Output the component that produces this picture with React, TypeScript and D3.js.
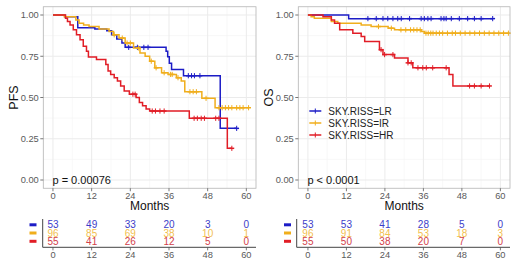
import React from "react";
import * as d3 from "d3";

// ---------- data ----------
const groups = ["SKY.RISS=LR", "SKY.RISS=IR", "SKY.RISS=HR"];
const colors = ["#1c1cc6", "#f0ae1c", "#e11d26"];
const tableColors = ["#3c3cc8", "#f2c04e", "#d2404a"];
const xTicks = [0, 12, 24, 36, 48, 60];
const yTicks = [0, 0.25, 0.5, 0.75, 1];

// PFS step curves
const pfsLR_t = [0, 3.7, 7.7, 13, 16.7, 18.2, 19.8, 21.4, 22.4, 35.1, 35.6, 36.1, 36.8, 40.5, 51.9];
const pfsLR_s = [1, 0.99, 0.923, 0.915, 0.905, 0.88, 0.855, 0.83, 0.804, 0.78, 0.747, 0.707, 0.67, 0.632, 0.313];
const pfsLR_end = 57;
const pfsLR_cens = [23.5, 26.2, 28.2, 29.5, 42, 43, 43.9, 45.6, 57];

const pfsIR_t = [0, 3.5, 7.1, 8.1, 9.5, 11.2, 14.3, 17.4, 18.8, 20.5, 22.4, 25, 27, 28.6, 30, 31.6, 33.7, 35.7, 38.3, 39.8, 40.9, 46.2, 50.3];
const pfsIR_s = [1, 0.99, 0.97, 0.95, 0.94, 0.93, 0.915, 0.9, 0.88, 0.86, 0.83, 0.8, 0.77, 0.75, 0.72, 0.68, 0.65, 0.64, 0.62, 0.6, 0.535, 0.495, 0.438];
const pfsIR_end = 60.7;
const pfsIR_cens = [19, 21.5, 23, 24, 26.5, 30.5, 32, 34.5, 36.5, 37, 38.8, 42.5, 43.5, 44.5, 47.5, 51.5, 52.5, 53.5, 54.5, 55.5, 57, 58, 59, 60.7];

const pfsHR_t = [0, 3.9, 4.5, 5.3, 6.3, 7.3, 8.4, 9.4, 10.4, 11, 13.5, 16.4, 17.1, 17.9, 19, 20, 21, 22.1, 23.7, 25.8, 26.8, 27.8, 28.9, 30, 42.3, 54.1];
const pfsHR_s = [1, 0.98, 0.96, 0.94, 0.91, 0.88, 0.85, 0.81, 0.78, 0.745, 0.73, 0.7, 0.66, 0.64, 0.62, 0.6, 0.57, 0.54, 0.52, 0.5, 0.47, 0.45, 0.43, 0.418, 0.374, 0.192];
const pfsHR_end = 55.5;
const pfsHR_cens = [24.8, 25.5, 30.8, 31.8, 33.2, 34.5, 43.8, 44.8, 46, 47, 50.5, 51.5, 55.5];

// OS step curves
const osLR_t = [0, 12.7];
const osLR_s = [1, 0.978];
const osLR_end = 57.6;
const osLR_cens = [18.7, 21.3, 23.4, 24.9, 26.5, 28, 29.1, 31.7, 35.3, 36.3, 37.4, 38.4, 41.5, 42.4, 43.1, 44.7, 47.2, 49.8, 51.9, 54, 57.6];

const osIR_t = [0, 1, 2, 7.3, 9.3, 16.6, 19.7, 25, 27, 35.3, 36.3];
const osIR_s = [1, 0.99, 0.98, 0.96, 0.95, 0.94, 0.93, 0.92, 0.91, 0.9, 0.89];
const osIR_end = 63;
const osIR_cens = [22, 26, 29, 30.5, 32, 33, 34, 35, 36.8, 37.5, 38.3, 39, 40, 41, 42, 43.5, 45, 46, 47.5, 49, 50.5, 52, 53.5, 55, 56.5, 58, 59.5, 61, 62.5];

const osHR_t = [0, 4.7, 7.3, 8.3, 9.9, 14, 16.6, 17.7, 22.3, 23.4, 27, 31.2, 32.7, 44, 45.2];
const osHR_s = [1, 0.99, 0.97, 0.95, 0.91, 0.89, 0.87, 0.84, 0.79, 0.76, 0.74, 0.71, 0.68, 0.64, 0.57];
const osHR_end = 56.6;
const osHR_cens = [22.8, 23.9, 26.5, 31.2, 32.2, 34.3, 35.8, 36.9, 38.9, 43.1, 50.4, 51.9, 54, 56.6];

// numbers at risk
const pfsRisk = [
  [53, 49, 33, 20, 3, 0],
  [96, 85, 69, 38, 10, 1],
  [55, 41, 26, 12, 5, 0],
];
const osRisk = [
  [53, 53, 41, 28, 5, 0],
  [96, 91, 84, 53, 18, 3],
  [55, 50, 38, 20, 7, 0],
];

type Curve = { t: number[]; s: number[]; end: number; cens: number[] };
const pfsCurves: Curve[] = [
  { t: pfsLR_t, s: pfsLR_s, end: pfsLR_end, cens: pfsLR_cens },
  { t: pfsIR_t, s: pfsIR_s, end: pfsIR_end, cens: pfsIR_cens },
  { t: pfsHR_t, s: pfsHR_s, end: pfsHR_end, cens: pfsHR_cens },
];
const osCurves: Curve[] = [
  { t: osLR_t, s: osLR_s, end: osLR_end, cens: osLR_cens },
  { t: osIR_t, s: osIR_s, end: osIR_end, cens: osIR_cens },
  { t: osHR_t, s: osHR_s, end: osHR_end, cens: osHR_cens },
];

const FONT = "Liberation Sans, Arial, Helvetica, sans-serif";

function survAt(c: Curve, time: number) {
  let v = c.s[0];
  for (let i = 0; i < c.t.length; i++) if (c.t[i] <= time) v = c.s[i];
  return v;
}

function Panel({
  x0, x1, curves, risk, ylab, pText, legend, tableLeft, dashX,
}: {
  x0: number; x1: number; curves: Curve[]; risk: number[][]; ylab: string; pText: string;
  legend: boolean; tableLeft: number; dashX: number;
}) {
  const y0 = 6.75, y1 = 188.25;
  const x = d3.scaleLinear().domain([-3, 63]).range([x0, x1]);
  const y = d3.scaleLinear().domain([-0.05, 1.05]).range([y1, y0]);
  const minorX = [6, 18, 30, 42, 54];
  const minorY = [0.125, 0.375, 0.625, 0.875];
  const line = d3
    .line<[number, number]>()
    .x((d) => x(d[0]))
    .y((d) => y(d[1]))
    .curve(d3.curveStepAfter);
  const rowY = [224.8, 233, 241.3];
  const axisY = 247.3;
  return (
    <g fontFamily={FONT}>
      <rect x={x0} y={y0} width={x1 - x0} height={y1 - y0} fill="#fff" />
      {minorX.map((v) => (
        <line key={"mx" + v} x1={x(v)} x2={x(v)} y1={y0} y2={y1} stroke="#f4f4f4" strokeWidth={0.6} />
      ))}
      {minorY.map((v) => (
        <line key={"my" + v} x1={x0} x2={x1} y1={y(v)} y2={y(v)} stroke="#f4f4f4" strokeWidth={0.6} />
      ))}
      {xTicks.map((v) => (
        <line key={"gx" + v} x1={x(v)} x2={x(v)} y1={y0} y2={y1} stroke="#ebebeb" strokeWidth={1} />
      ))}
      {yTicks.map((v) => (
        <line key={"gy" + v} x1={x0} x2={x1} y1={y(v)} y2={y(v)} stroke="#ebebeb" strokeWidth={1} />
      ))}
      {curves.map((c, i) => {
        const pts: [number, number][] = c.t.map((tt, k) => [tt, c.s[k]] as [number, number]);
        pts.push([c.end, c.s[c.s.length - 1]]);
        return (
          <g key={"c" + i}>
            <path d={line(pts) || ""} fill="none" stroke={colors[i]} strokeWidth={1.5} />
            {c.cens.map((ct, k) => {
              const cx = x(ct), cy = y(survAt(c, ct));
              return (
                <g key={k}>
                  <line x1={cx} x2={cx} y1={cy - 2.6} y2={cy + 2.6} stroke={colors[i]} strokeWidth={1} />
                  <line x1={cx - 2.4} x2={cx + 2.4} y1={cy} y2={cy} stroke={colors[i]} strokeWidth={1.5} />
                </g>
              );
            })}
          </g>
        );
      })}
      <rect x={x0} y={y0} width={x1 - x0} height={y1 - y0} fill="none" stroke="#b4b4b4" strokeWidth={0.8} />
      {/* y axis */}
      {yTicks.map((v) => (
        <g key={"yt" + v}>
          <line x1={x0 - 3} x2={x0} y1={y(v)} y2={y(v)} stroke="#555" strokeWidth={0.8} />
          <text x={x0 - 4.5} y={y(v)} dy="0.35em" textAnchor="end" fontSize={9.3} fill="#5a5a5a">
            {v.toFixed(2)}
          </text>
        </g>
      ))}
      {xTicks.map((v) => (
        <g key={"xt" + v}>
          <line x1={x(v)} x2={x(v)} y1={y1} y2={y1 + 3} stroke="#555" strokeWidth={0.8} />
          <text x={x(v)} y={y1 + 7} dy="0.35em" textAnchor="middle" fontSize={9.3} fill="#5a5a5a">
            {v}
          </text>
        </g>
      ))}
      <text x={(x0 + x1) / 2} y={205.5} dy="0.35em" textAnchor="middle" fontSize={12} fill="#111">
        Months
      </text>
      <text
        transform={`translate(${x0 - 30},${(y0 + y1) / 2}) rotate(-90)`}
        textAnchor="middle"
        dy="0.35em"
        fontSize={12.5}
        fill="#111"
      >
        {ylab}
      </text>
      <text x={x(0) - 0.5} y={y(0)} dy="0.35em" fontSize={11} fill="#111">
        {pText}
      </text>
      {legend &&
        groups.map((g, i) => (
          <g key={"lg" + i}>
            <line x1={x0 + 11} x2={x0 + 23} y1={111 + i * 12} y2={111 + i * 12} stroke={colors[i]} strokeWidth={1.5} />
            <line x1={x0 + 17} x2={x0 + 17} y1={111 + i * 12 - 2.5} y2={111 + i * 12 + 2.5} stroke={colors[i]} strokeWidth={1} />
            <text x={x0 + 30} y={111 + i * 12} dy="0.35em" fontSize={10} fill="#222">
              {g}
            </text>
          </g>
        ))}
      {/* risk table */}
      {risk.map((row, i) => (
        <g key={"r" + i}>
          <line x1={dashX} x2={dashX + 7} y1={rowY[i]} y2={rowY[i]} stroke={colors[i]} strokeWidth={3} />
          {row.map((n, k) => (
            <text key={k} x={x(xTicks[k])} y={rowY[i]} dy="0.35em" textAnchor="middle" fontSize={10} fill={tableColors[i]}>
              {n}
            </text>
          ))}
        </g>
      ))}
      <line x1={tableLeft} x2={tableLeft} y1={219} y2={axisY} stroke="#444" strokeWidth={1} />
      <line x1={tableLeft} x2={x1} y1={axisY} y2={axisY} stroke="#444" strokeWidth={1} />
      {xTicks.map((v) => (
        <g key={"rt" + v}>
          <line x1={x(v)} x2={x(v)} y1={axisY} y2={axisY + 3} stroke="#555" strokeWidth={0.8} />
          <text x={x(v)} y={axisY + 7} dy="0.35em" textAnchor="middle" fontSize={9.3} fill="#5a5a5a">
            {v}
          </text>
        </g>
      ))}
    </g>
  );
}

export default function App() {
  return (
    <svg
      width={520}
      height={268}
      style={{ position: "absolute", left: 0, top: 0, background: "#fff" }}
    >
      <rect width={520} height={268} fill="#fff" />
      <Panel x0={43.3} x1={256} curves={pfsCurves} risk={pfsRisk} ylab="PFS" pText="p = 0.00076" legend={false} tableLeft={42.7} dashX={29.5} />
      <Panel x0={298.3} x1={510} curves={osCurves} risk={osRisk} ylab="OS" pText="p < 0.0001" legend={true} tableLeft={296.7} dashX={284} />
    </svg>
  );
}
